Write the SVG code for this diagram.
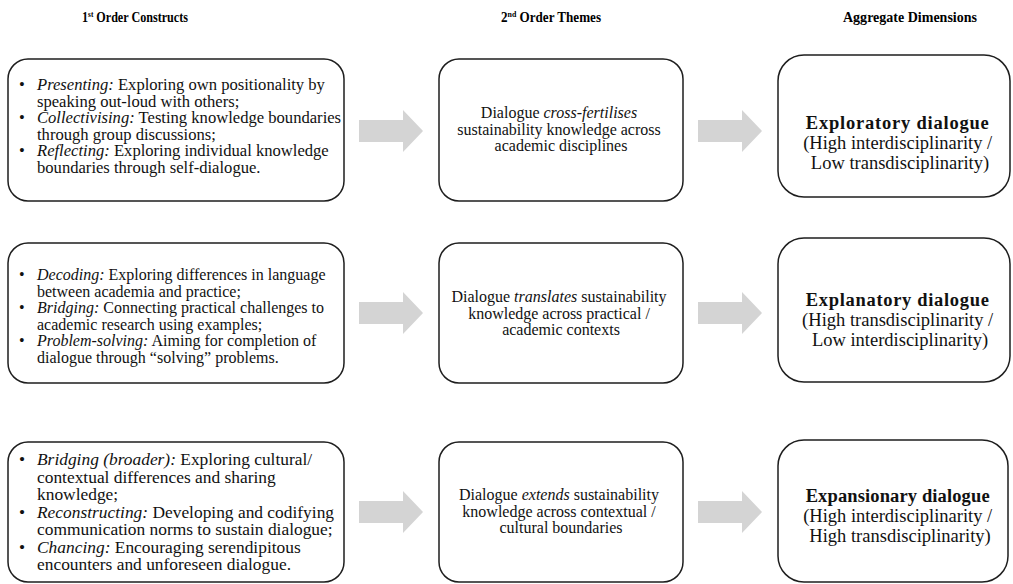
<svg xmlns="http://www.w3.org/2000/svg" width="1013" height="584" viewBox="0 0 1013 584">
<style>
.box{fill:#fff;stroke:#1e1e1e;stroke-width:1.5}
.hdr{font-family:"Liberation Serif",serif;font-weight:bold;font-size:15px;fill:#000}
.t{font-family:"Liberation Serif",serif;font-size:16.6px;fill:#111}
.m{font-family:"Liberation Serif",serif;font-size:16px;fill:#111;text-anchor:middle}
.r{font-family:"Liberation Serif",serif;font-size:18.5px;fill:#111;text-anchor:middle}
.b{font-weight:bold}
.i{font-style:italic}
.arrow{fill:#d4d4d4}
</style>
<defs>
<path id="arr" d="M0,-11 H44 V-21 L64,0 L44,21 V11 H0 Z"/>
</defs>
<g id="headers">
<text class="hdr" x="82" y="22" textLength="106" lengthAdjust="spacingAndGlyphs">1<tspan font-size="9" dy="-5">st</tspan><tspan dy="5"> Order Constructs</tspan></text>
<text class="hdr" x="501" y="22" textLength="100" lengthAdjust="spacingAndGlyphs">2<tspan font-size="9" dy="-5">nd</tspan><tspan dy="5"> Order Themes</tspan></text>
<text class="hdr" x="843" y="22" textLength="134" lengthAdjust="spacingAndGlyphs">Aggregate Dimensions</text>
</g>
<g id="connectors">
<use href="#arr" class="arrow" x="359" y="131"/>
<use href="#arr" class="arrow" x="698" y="131"/>
<use href="#arr" class="arrow" x="359" y="313"/>
<use href="#arr" class="arrow" x="698" y="313"/>
<use href="#arr" class="arrow" x="359" y="512"/>
<use href="#arr" class="arrow" x="698" y="512"/>
</g>
<g id="c1">
<rect class="box" x="8" y="59" width="336" height="142" rx="20"/>
<text class="t"><tspan x="19" y="90">•</tspan><tspan x="37" y="90" class="i">Presenting:</tspan><tspan> Exploring own positionality by</tspan>
<tspan x="37" y="106.5">speaking out-loud with others;</tspan>
<tspan x="19" y="123">•</tspan><tspan x="37" y="123" class="i">Collectivising:</tspan><tspan> Testing knowledge boundaries</tspan>
<tspan x="37" y="139.5">through group discussions;</tspan>
<tspan x="19" y="156">•</tspan><tspan x="37" y="156" class="i">Reflecting:</tspan><tspan> Exploring individual knowledge</tspan>
<tspan x="37" y="172.5">boundaries through self-dialogue.</tspan></text>
</g>
<g id="c2">
<rect class="box" x="8" y="243" width="336" height="140" rx="20"/>
<text class="t" style="font-size:16px"><tspan x="19" y="280">•</tspan><tspan x="37" y="280" class="i">Decoding:</tspan><tspan> Exploring differences in language</tspan>
<tspan x="37" y="296.5">between academia and practice;</tspan>
<tspan x="19" y="313">•</tspan><tspan x="37" y="313" class="i">Bridging:</tspan><tspan> Connecting practical challenges to</tspan>
<tspan x="37" y="329.5">academic research using examples;</tspan>
<tspan x="19" y="346">•</tspan><tspan x="37" y="346" class="i">Problem-solving:</tspan><tspan>  Aiming for completion of</tspan>
<tspan x="37" y="362.5">dialogue through “solving” problems.</tspan></text>
</g>
<g id="c3">
<rect class="box" x="8" y="442" width="336" height="140" rx="20"/>
<text class="t" style="font-size:17.4px"><tspan x="19" y="465">•</tspan><tspan x="37" y="465" class="i">Bridging (broader):</tspan><tspan> Exploring cultural/</tspan>
<tspan x="37" y="482.5">contextual differences and sharing</tspan>
<tspan x="37" y="500">knowledge;</tspan>
<tspan x="19" y="517.5">•</tspan><tspan x="37" y="517.5" class="i">Reconstructing:</tspan><tspan> Developing and codifying</tspan>
<tspan x="37" y="535">communication norms to sustain dialogue;</tspan>
<tspan x="19" y="552.5">•</tspan><tspan x="37" y="552.5" class="i">Chancing:</tspan><tspan> Encouraging serendipitous</tspan>
<tspan x="37" y="570">encounters and unforeseen dialogue.</tspan></text>
</g>
<g id="t1">
<rect class="box" x="439" y="59" width="244" height="142" rx="20"/>
<text class="m"><tspan x="561" y="118">Dialogue <tspan class="i">cross-fertilises</tspan></tspan>
<tspan x="561" y="134.5">sustainability knowledge across</tspan>
<tspan x="561" y="151">academic disciplines</tspan></text>
</g>
<g id="t2">
<rect class="box" x="439" y="243" width="244" height="140" rx="20"/>
<text class="m"><tspan x="561" y="302">Dialogue <tspan class="i">translates</tspan> sustainability</tspan>
<tspan x="561" y="318.5">knowledge across practical /</tspan>
<tspan x="561" y="335">academic contexts</tspan></text>
</g>
<g id="t3">
<rect class="box" x="439" y="442" width="244" height="140" rx="20"/>
<text class="m"><tspan x="561" y="500">Dialogue <tspan class="i">extends</tspan> sustainability</tspan>
<tspan x="561" y="516.5">knowledge across contextual /</tspan>
<tspan x="561" y="533">cultural boundaries</tspan></text>
</g>
<g id="d1">
<rect class="box" x="778" y="55" width="232" height="142" rx="26"/>
<text class="r"><tspan x="900" y="129" class="b" textLength="183" lengthAdjust="spacing">Exploratory dialogue</tspan>
<tspan x="900" y="149">(High interdisciplinarity /</tspan>
<tspan x="900" y="169">Low transdisciplinarity)</tspan></text>
</g>
<g id="d2">
<rect class="box" x="778" y="238" width="232" height="144" rx="26"/>
<text class="r"><tspan x="900" y="306" class="b" textLength="183" lengthAdjust="spacing">Explanatory dialogue</tspan>
<tspan x="900" y="326">(High transdisciplinarity /</tspan>
<tspan x="900" y="346">Low interdisciplinarity)</tspan></text>
</g>
<g id="d3">
<rect class="box" x="778" y="440" width="230" height="142" rx="26"/>
<text class="r"><tspan x="900" y="502" class="b" textLength="184" lengthAdjust="spacing">Expansionary dialogue</tspan>
<tspan x="900" y="522">(High interdisciplinarity /</tspan>
<tspan x="900" y="542">High transdisciplinarity)</tspan></text>
</g>
</svg>
